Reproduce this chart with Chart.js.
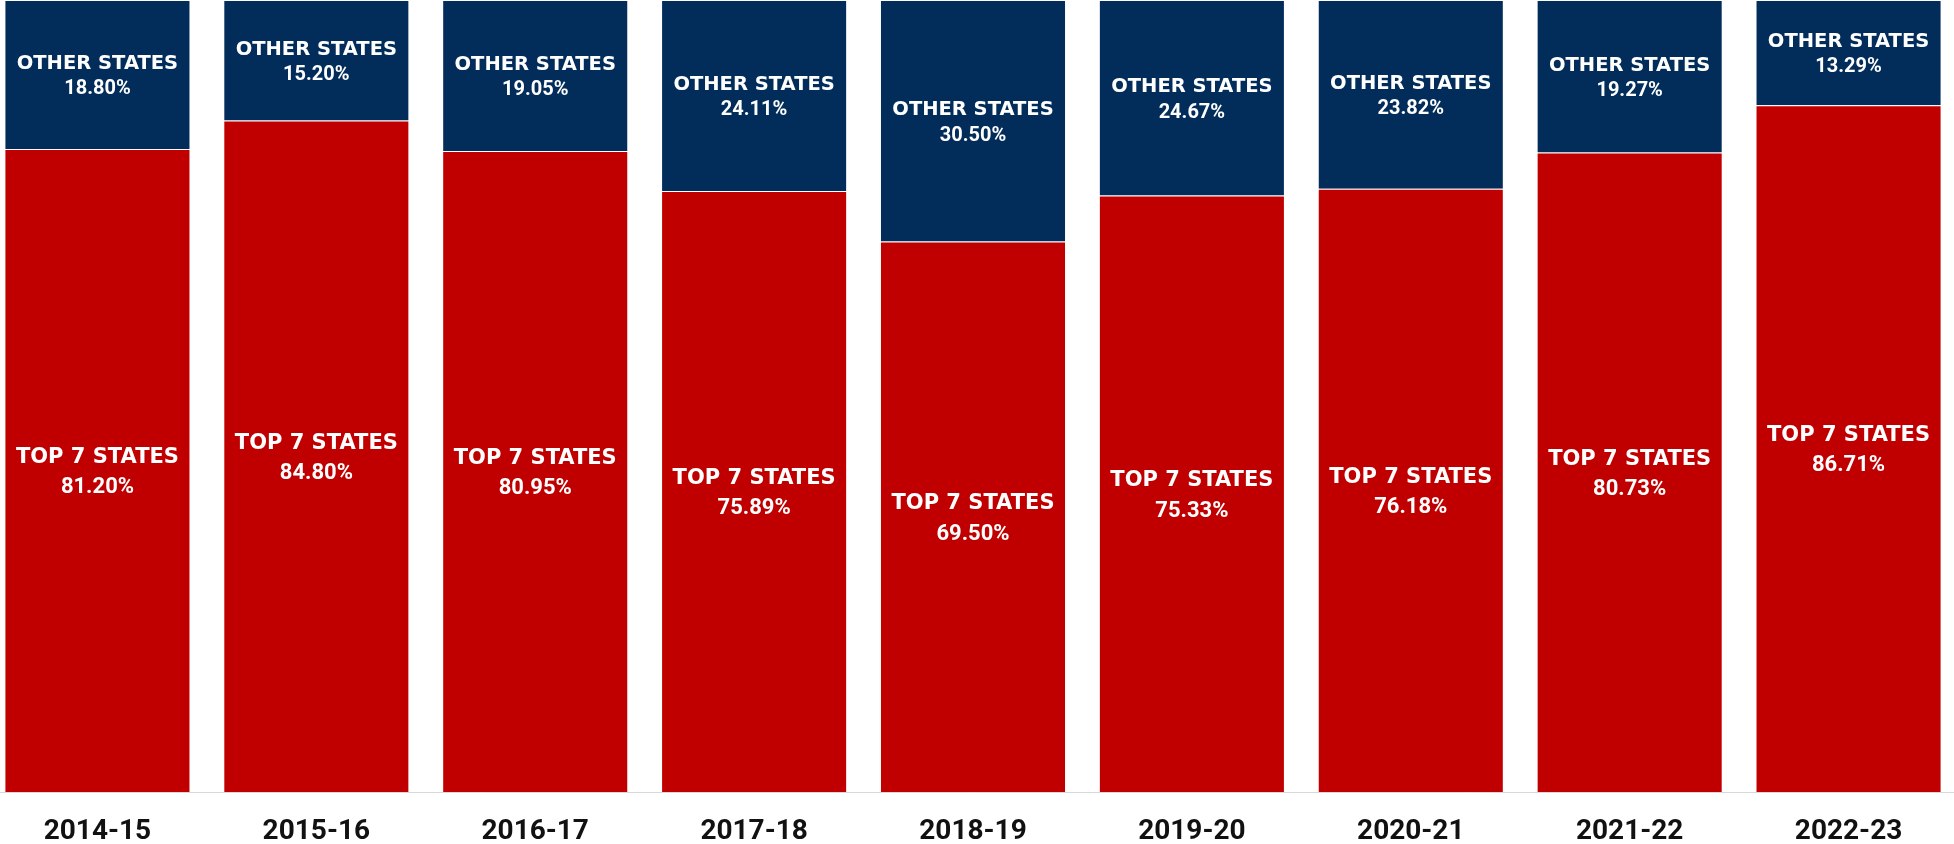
<!DOCTYPE html>
<html>
<head>
<meta charset="utf-8">
<title>Top 7 States vs Other States</title>
<script src="https://cdn.jsdelivr.net/npm/chart.js@4.4.1/dist/chart.umd.min.js"></script>
<style>
  html, body { margin: 0; padding: 0; background: #ffffff; overflow: hidden; }
  #wrap { position: absolute; left: -12px; top: 0; width: 1970px; height: 844px; }
</style>
</head>
<body>
<div id="wrap"><canvas id="chart" width="1970" height="844"></canvas></div>
<script>
// Data
const years = ['2014-15', '2015-16', '2016-17', '2017-18', '2018-19', '2019-20', '2020-21', '2021-22', '2022-23'];
const topSeven = [81.20, 84.80, 80.95, 75.89, 69.50, 75.33, 76.18, 80.73, 86.71];
const otherStates = [18.80, 15.20, 19.05, 24.11, 30.50, 24.67, 23.82, 19.27, 13.29];
const seriesNames = ['TOP 7 STATES', 'OTHER STATES'];

const RED = '#c00000';
const NAVY = '#022c5a';

// Draws the two-line label in the middle of each bar segment
const segmentLabels = {
  id: 'segmentLabels',
  afterDatasetsDraw(chart) {
    const ctx = chart.ctx;
    chart.data.datasets.forEach((ds, di) => {
      const meta = chart.getDatasetMeta(di);
      // red segments use a slightly bigger type than the navy ones
      const big = di === 0;
      const nameSize = big ? 21 : 19.5;
      const valSize = big ? 22 : 20;
      const gap = big ? 15 : 12.75;
      meta.data.forEach((bar, i) => {
        const { x, y, base } = bar.getProps(['x', 'y', 'base'], true);
        const mid = (y + base) / 2;
        ctx.save();
        ctx.fillStyle = '#ffffff';
        ctx.textAlign = 'center';
        ctx.textBaseline = 'alphabetic';
        ctx.font = `bold ${nameSize}px "DejaVu Sans"`;
        ctx.fillText(seriesNames[di], x, mid - gap + 0.729 * nameSize / 2);
        ctx.font = `bold ${valSize}px Roboto`;
        ctx.fillText(ds.data[i].toFixed(2) + '%', x, mid + gap + 0.711 * valSize / 2);
        ctx.restore();
      });
    });
  }
};

const config = {
  type: 'bar',
  data: {
    labels: years,
    datasets: [
      {
        label: seriesNames[0],
        data: topSeven,
        backgroundColor: RED,
        borderColor: 'rgba(255, 255, 255, 0.25)',
        borderWidth: 1
      },
      {
        label: seriesNames[1],
        data: otherStates,
        backgroundColor: NAVY,
        borderColor: 'rgba(255, 255, 255, 0.25)',
        borderWidth: 1
      }
    ]
  },
  options: {
    responsive: false,
    animation: false,
    devicePixelRatio: 1,
    layout: { padding: 0 },
    datasets: {
      bar: { barPercentage: 1, categoryPercentage: 0.85 }
    },
    plugins: {
      legend: { display: false },
      tooltip: { enabled: false },
      title: { display: false }
    },
    scales: {
      x: {
        stacked: true,
        grid: { display: false, drawTicks: false },
        border: { display: true, color: '#d9d9d9', width: 1 },
        ticks: {
          color: '#111111',
          padding: 23,
          font: { family: 'Roboto', size: 28, weight: 'bold' }
        },
        afterFit: (scale) => { scale.height = 52; }
      },
      y: {
        stacked: true,
        display: false,
        min: 0,
        max: 100
      }
    }
  },
  plugins: [segmentLabels]
};

new Chart(document.getElementById('chart'), config);
</script>
</body>
</html>
